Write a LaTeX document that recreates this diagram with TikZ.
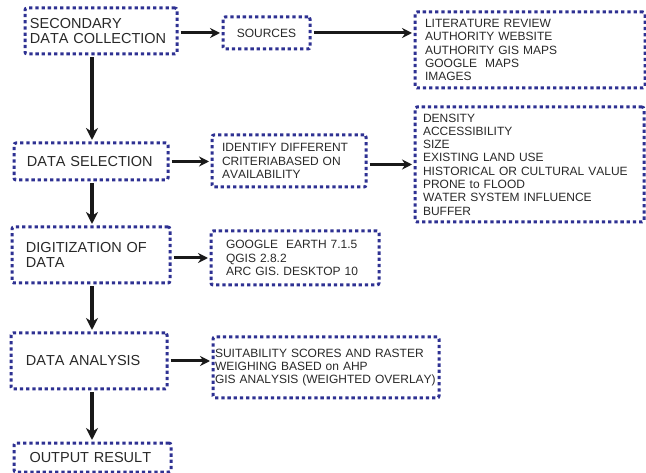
\documentclass[tikz,border=0pt]{standalone}
\usepackage{fontspec}
\setmainfont[Kerning=Off]{Liberation Sans}
\usetikzlibrary{arrows.meta,positioning}
\definecolor{boxblue}{RGB}{46,49,146}
\definecolor{textgray}{RGB}{40,40,40}

\tikzset{
    dotbox/.style={draw=boxblue,line width=3pt,dash pattern=on 3.3pt off 2.9pt,rounded corners=2pt,inner sep=0pt,align=left,text=textgray},
    mainbox/.style={dotbox,font=\fontsize{14.5}{15}\selectfont},
    listbox/.style={dotbox,font=\fontsize{12}{13.3}\selectfont},
    flow/.style={-{Stealth[length=10pt,width=10pt]},line width=3pt,black!90,shorten >=1.5pt,shorten <=2pt},
    downflow/.style={flow,line width=3.5pt,-{Stealth[length=12pt,width=12pt]}}
}

\begin{document}
\begin{tikzpicture}[x=1pt,y=-1pt,line cap=butt,line join=round]

        \useasboundingbox (0,0) rectangle (646,473);

        % --- Variables ---
        \coordinate (spine) at (92,0);

        % main steps
        \node[mainbox,minimum width=152,minimum height=46,text width=142] (sec) at (101,31) {SECONDARY\\DATA COLLECTION};
        \node[mainbox,minimum width=154,minimum height=37,text width=128] (sel) at (91,161.5) {DATA SELECTION};
        \node[mainbox,minimum width=158,minimum height=56,text width=130] (dig) at (91,255) {DIGITIZATION OF\\DATA};
        \node[mainbox,minimum width=156,minimum height=56,text width=126] (ana) at (89,361) {DATA ANALYSIS};
        \node[mainbox,minimum width=157,minimum height=29,text width=126] (out) at (92.5,457.5) {OUTPUT RESULT};

        % side boxes
        \node[listbox,minimum width=87,minimum height=32,align=center] (src) at (266.5,33) {SOURCES};
        \node[listbox,minimum width=230,minimum height=76,text width=210] (srclist) at (530,50)
            {LITERATURE REVIEW\\AUTHORITY WEBSITE\\AUTHORITY GIS MAPS\\GOOGLE\ \ MAPS\\IMAGES};
        \node[listbox,minimum width=154,minimum height=52,text width=134] (crit) at (289,161)
            {IDENTIFY DIFFERENT\\CRITERIABASED ON\\AVAILABILITY};
        \node[listbox,minimum width=229,minimum height=115,text width=213] (critlist) at (529.5,164.5)
            {DENSITY\\ACCESSIBILITY\\SIZE\\EXISTING LAND USE\\HISTORICAL OR CULTURAL VALUE\\PRONE to FLOOD\\WATER SYSTEM INFLUENCE\\BUFFER};
        \node[listbox,minimum width=168,minimum height=54,text width=138] (soft) at (295,258)
            {GOOGLE\ \ EARTH 7.1.5\\QGIS 2.8.2\\ARC GIS. DESKTOP 10};
        \node[listbox,minimum width=226,minimum height=61,text width=222] (res) at (326,367.5)
            {SUITABILITY SCORES AND RASTER\\WEIGHING BASED on AHP\\GIS ANALYSIS (WEIGHTED OVERLAY)};

        % down the main line
        \draw[downflow] (sec.south -| spine) -- (sel.north -| spine);
        \draw[downflow] (sel.south -| spine) -- (dig.north -| spine);
        \draw[downflow] (dig.south -| spine) -- (ana.north -| spine);
        \draw[downflow] (ana.south -| spine) -- (out.north -| spine);

        % out to the sides
        \draw[flow] (sec.east |- src.west) -- (src.west);
        \draw[flow] (src.east) -- (src.east -| srclist.west);
        \draw[flow] (sel.east) -- (sel.east -| crit.west);
        \draw[flow] (crit.east |- critlist.west) -- (critlist.west);
        \draw[flow] (dig.east |- soft.west) -- (soft.west);
        \draw[flow] (ana.east) -- (ana.east -| res.west);

    \end{tikzpicture}
\end{document}
